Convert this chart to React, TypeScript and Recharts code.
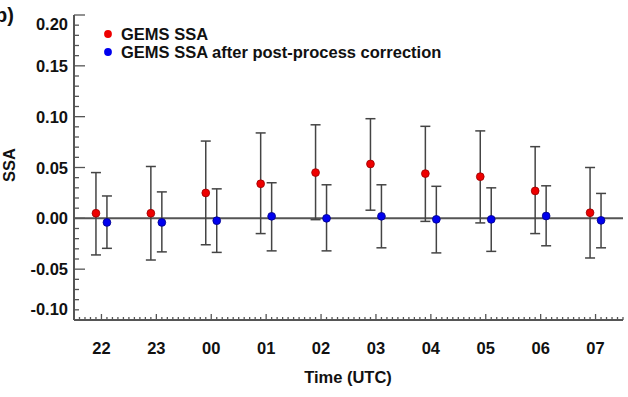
import React from 'react';
import {
  ScatterChart,
  Scatter,
  XAxis,
  YAxis,
  ErrorBar,
  ReferenceLine,
  Legend,
} from 'recharts';

// hours (UTC) on the x axis
const categories = ['22', '23', '00', '01', '02', '03', '04', '05', '06', '07'];

// GEMS SSA (red): mean, lower and upper end of the error bar
const ssaMean = [0.005, 0.005, 0.025, 0.034, 0.045, 0.0535, 0.044, 0.041, 0.027, 0.0055];
const ssaLow = [-0.036, -0.041, -0.026, -0.015, -0.0013, 0.008, -0.003, -0.0045, -0.015, -0.039];
const ssaHigh = [0.045, 0.051, 0.076, 0.084, 0.092, 0.098, 0.0905, 0.086, 0.0705, 0.05];

// after post-process correction (blue)
const corrMean = [-0.004, -0.004, -0.0023, 0.002, 0.0, 0.002, -0.001, -0.001, 0.0023, -0.002];
const corrLow = [-0.0295, -0.033, -0.0335, -0.032, -0.032, -0.029, -0.034, -0.0325, -0.027, -0.029];
const corrHigh = [0.022, 0.026, 0.029, 0.035, 0.033, 0.033, 0.0315, 0.03, 0.032, 0.0245];

const yMajorTicks = [-0.1, -0.05, 0.0, 0.05, 0.1, 0.15, 0.2];

const FONT = '"Liberation Sans", Arial, Helvetica, sans-serif';
const FRAME = '#555';
const TEXT = '#111';

// minor ticks every 0.01 on y, every tenth of a category on x
const yTicks = Array.from({ length: 31 }, (_, i) => Math.round((-0.1 + i * 0.01) * 100) / 100);
const xTicks = Array.from({ length: 101 }, (_, i) => Math.round((-0.5 + i * 0.1) * 10) / 10);

const toPoints = (mean: number[], low: number[], high: number[], shift: number) =>
  mean.map((m, i) => ({
    x: i + shift,
    y: m,
    err: [m - low[i], high[i] - m],
  }));

const ssaData = toPoints(ssaMean, ssaLow, ssaHigh, -0.1);
const corrData = toPoints(corrMean, corrLow, corrHigh, 0.1);

const isMajorY = (v: number) => yMajorTicks.some((t) => Math.abs(t - v) < 1e-6);
const isMajorX = (v: number) => Math.abs(v - Math.round(v)) < 1e-6;

const LeftTick = (props: any) => {
  const { x, y, payload } = props;
  const v = payload.value;
  const major = isMajorY(v);
  let dy = 0;
  if (Math.abs(v - 0.2) < 1e-6) dy = 9;
  if (Math.abs(v + 0.1) < 1e-6) dy = -11;
  return (
    <g>
      <line x1={x} x2={x + (major ? 11 : 5)} y1={y} y2={y} stroke={FRAME} strokeWidth={1.3} />
      {major && (
        <text
          x={x - 6}
          y={y + dy}
          textAnchor="end"
          dominantBaseline="central"
          fontFamily={FONT}
          fontWeight={700}
          fontSize={16.5}
          fill={TEXT}
        >
          {v.toFixed(2)}
        </text>
      )}
    </g>
  );
};

const RightTick = (props: any) => {
  const { x, y, payload } = props;
  const major = isMajorY(payload.value);
  return <line x1={x} x2={x - (major ? 11 : 5)} y1={y} y2={y} stroke={FRAME} strokeWidth={1.3} />;
};

const BottomTick = (props: any) => {
  const { x, y, payload } = props;
  const v = payload.value;
  const major = isMajorX(v);
  return (
    <g>
      <line x1={x} x2={x} y1={y} y2={y - (major ? 6 : 3)} stroke={FRAME} strokeWidth={1.3} />
      {major && (
        <text
          x={x}
          y={y + 28}
          textAnchor="middle"
          dominantBaseline="central"
          fontFamily={FONT}
          fontWeight={700}
          fontSize={16.5}
          fill={TEXT}
        >
          {categories[Math.round(v)]}
        </text>
      )}
    </g>
  );
};

const TopTick = (props: any) => {
  const { x, y, payload } = props;
  const major = isMajorX(payload.value);
  return <line x1={x} x2={x} y1={y} y2={y + (major ? 5 : 2.5)} stroke={FRAME} strokeWidth={1.3} />;
};

const Dot = (color: string, edge: string) => (props: any) =>
  <circle cx={props.cx} cy={props.cy} r={3.9} fill={color} stroke={edge} strokeWidth={0.8} />;

const renderLegend = (props: any) => (
  <div style={{ fontFamily: FONT, fontWeight: 700, fontSize: 16.5, lineHeight: '18px', color: TEXT }}>
    {(props.payload || []).map((entry: any) => (
      <div key={entry.value} style={{ display: 'flex', alignItems: 'center', whiteSpace: 'nowrap' }}>
        <svg width={10} height={10} style={{ marginRight: 8 }}>
          <circle cx={5} cy={5} r={3.9} fill={entry.color} />
        </svg>
        <span>{entry.value}</span>
      </div>
    ))}
  </div>
);

export default function App() {
  return (
    <div style={{ position: 'absolute', left: 0, top: 0 }}>
      <ScatterChart width={628} height={397} margin={{ top: 15, right: 5, bottom: 0, left: 0 }}>
        <XAxis
          xAxisId="b"
          dataKey="x"
          type="number"
          domain={[-0.5, 9.5]}
          ticks={xTicks}
          interval={0}
          tickSize={0}
          tickMargin={0}
          tickLine={false}
          axisLine={{ stroke: FRAME, strokeWidth: 2 }}
          tick={BottomTick}
          height={77}
          allowDataOverflow
        />
        <XAxis
          xAxisId="t"
          orientation="top"
          dataKey="x"
          type="number"
          domain={[-0.5, 9.5]}
          ticks={xTicks}
          interval={0}
          tickSize={0}
          tickMargin={0}
          tickLine={false}
          axisLine={{ stroke: FRAME, strokeWidth: 2 }}
          tick={TopTick}
          height={0}
          allowDataOverflow
        />
        <YAxis
          yAxisId="l"
          dataKey="y"
          type="number"
          domain={[-0.1, 0.2]}
          ticks={yTicks}
          interval={0}
          tickSize={0}
          tickMargin={0}
          tickLine={false}
          axisLine={{ stroke: FRAME, strokeWidth: 2 }}
          tick={LeftTick}
          width={74}
          allowDataOverflow
        />
        <YAxis
          yAxisId="r"
          orientation="right"
          dataKey="y"
          type="number"
          domain={[-0.1, 0.2]}
          ticks={yTicks}
          interval={0}
          tickSize={0}
          tickMargin={0}
          tickLine={false}
          axisLine={{ stroke: FRAME, strokeWidth: 2 }}
          tick={RightTick}
          width={0}
          allowDataOverflow
        />
        <ReferenceLine xAxisId="b" yAxisId="l" y={0} stroke={FRAME} strokeWidth={2} />
        <Legend
          layout="horizontal"
          verticalAlign="middle"
          content={renderLegend}
          wrapperStyle={{ left: 103, top: 25, width: 'auto' }}
        />
        <Scatter
          name="GEMS SSA"
          data={ssaData}
          xAxisId="b"
          yAxisId="l"
          fill="#ee0000"
          shape={Dot('#ee0000', '#990000')}
          isAnimationActive={false}
        >
          <ErrorBar dataKey="err" direction="y" width={5} stroke="#444" strokeWidth={1.5} />
        </Scatter>
        <Scatter
          name="GEMS SSA after post-process correction"
          data={corrData}
          xAxisId="b"
          yAxisId="l"
          fill="#0000ee"
          shape={Dot('#0000ee', '#000088')}
          isAnimationActive={false}
        >
          <ErrorBar dataKey="err" direction="y" width={5} stroke="#444" strokeWidth={1.5} />
        </Scatter>
        <text
          x={348}
          y={377}
          textAnchor="middle"
          dominantBaseline="central"
          fontFamily={FONT}
          fontWeight={700}
          fontSize={16.5}
          fill={TEXT}
        >
          Time (UTC)
        </text>
        <text
          x={9}
          y={165}
          transform="rotate(-90 9 165)"
          textAnchor="middle"
          dominantBaseline="central"
          fontFamily={FONT}
          fontWeight={700}
          fontSize={16.5}
          fill={TEXT}
        >
          SSA
        </text>
        <text x={14} y={22} textAnchor="end" fontFamily={FONT} fontWeight={700} fontSize={20} fill={TEXT}>
          b)
        </text>
      </ScatterChart>
    </div>
  );
}
